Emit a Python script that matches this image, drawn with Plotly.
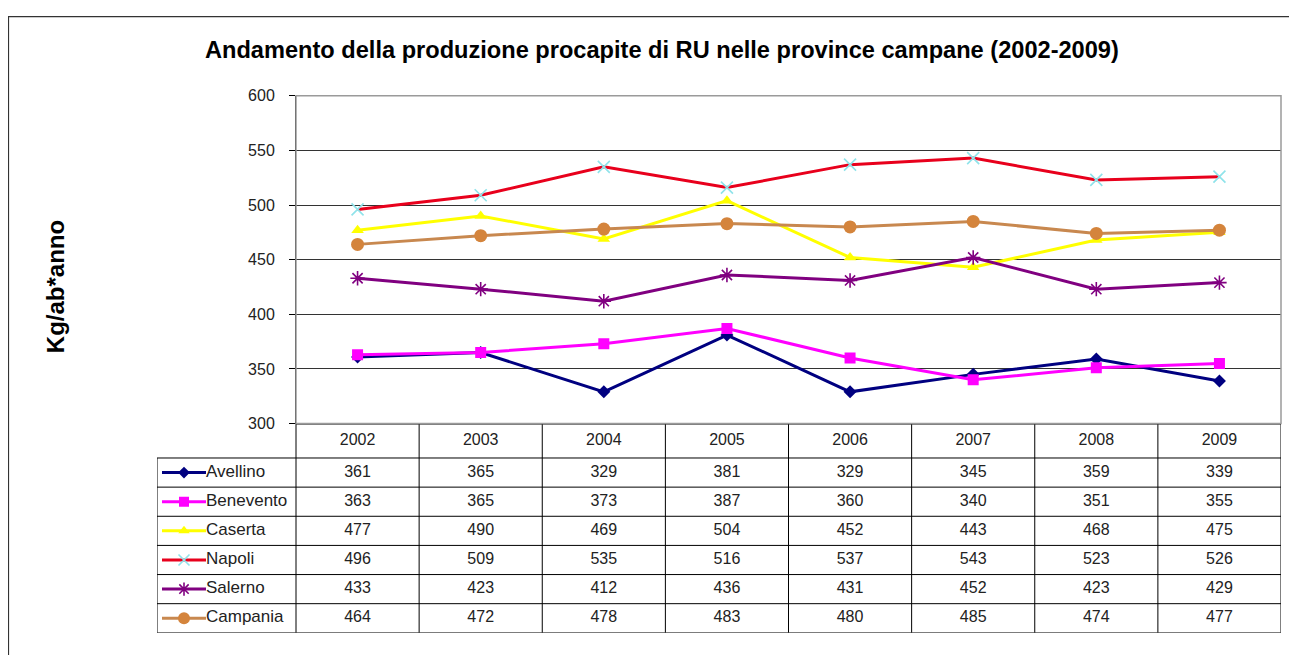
import plotly.graph_objects as go

# ---------------- data ----------------
years = ["2002", "2003", "2004", "2005", "2006", "2007", "2008", "2009"]
avellino = [361, 365, 329, 381, 329, 345, 359, 339]
benevento = [363, 365, 373, 387, 360, 340, 351, 355]
caserta = [477, 490, 469, 504, 452, 443, 468, 475]
napoli = [496, 509, 535, 516, 537, 543, 523, 526]
salerno = [433, 423, 412, 436, 431, 452, 423, 429]
campania = [464, 472, 478, 483, 480, 485, 474, 477]
names = ["Avellino", "Benevento", "Caserta", "Napoli", "Salerno", "Campania"]
values = [avellino, benevento, caserta, napoli, salerno, campania]
y_ticks = [300, 350, 400, 450, 500, 550, 600]

title = "Andamento della produzione procapite di RU nelle province campane (2002-2009)"
y_title = "Kg/ab*anno"

# ---------------- styles ----------------
line_colors = ["#000080", "#FF00FF", "#FFFF00", "#E8001C", "#800080", "#C8884F"]
marker_colors = ["#000080", "#FF00FF", "#FFFF00", "#8FE3EA", "#800080", "#D4843C"]
symbols = ["diamond", "square", "triangle-up", "x-thin-open", "asterisk-open", "circle"]
msizes = [10, 11, 11, 12, 12, 13]

OFF_X = 8          # body margin
VS, VOFF = 0.975, 16.0   # observed vertical mapping of the page capture
W = 1297 - 2 * OFF_X
H = 656
FONT = "Liberation Sans, Arial, sans-serif"


def px_x(p):
    return (p - OFF_X) / W


def px_y(p):
    return 1 - (p / VS - VOFF) / H


# table geometry (in table-axis units)
col_px = (1281 - 296) / len(years)
left_w = (296 - 157) / col_px
x2_min = -0.5 - left_w
n_rows = len(names) + 1
row_px = (633 - 458) / len(names)
header_extra = (458 - 424) / row_px - 1.0
y2_top = -0.5 - header_extra
header_y = (y2_top + 0.5) / 2

fig = go.Figure()

idx = list(range(len(years)))

# main chart lines
for name, vals, lc, mc, sym, ms in zip(names, values, line_colors, marker_colors, symbols, msizes):
    open_sym = sym.endswith("open")
    fig.add_trace(go.Scatter(
        x=idx, y=vals, mode="lines+markers", name=name,
        line=dict(color=lc, width=3),
        marker=dict(symbol=sym, size=ms, color=mc,
                    line=dict(color=mc, width=1.6 if open_sym else 0)),
        xaxis="x", yaxis="y", showlegend=False, hoverinfo="x+y+name",
    ))

TXT = dict(family=FONT, size=16, color="#222")
LBL = dict(family=FONT, size=17, color="#222")

# table: header years
fig.add_trace(go.Scatter(
    x=idx, y=[header_y] * len(years), mode="text", text=years, textfont=TXT,
    xaxis="x2", yaxis="y2", showlegend=False, hoverinfo="skip",
))

# table: value rows
for r, (name, vals) in enumerate(zip(names, values), start=1):
    fig.add_trace(go.Scatter(
        x=idx, y=[r] * len(vals), mode="text", text=[str(v) for v in vals],
        textfont=TXT,
        xaxis="x2", yaxis="y2", showlegend=False, hoverinfo="skip",
    ))

# table: legend keys in the left column
key_x0 = x2_min + 5 / col_px
key_x1 = x2_min + 49 / col_px
key_xm = (key_x0 + key_x1) / 2
label_x = x2_min + 49 / col_px
for r, (name, lc, mc, sym, ms) in enumerate(zip(names, line_colors, marker_colors, symbols, msizes), start=1):
    open_sym = sym.endswith("open")
    fig.add_trace(go.Scatter(
        x=[key_x0, key_x1], y=[r, r], mode="lines",
        line=dict(color=lc, width=3),
        xaxis="x2", yaxis="y2", showlegend=False, hoverinfo="skip",
    ))
    fig.add_trace(go.Scatter(
        x=[key_xm], y=[r], mode="markers",
        marker=dict(symbol=sym, size=ms - 1, color=mc,
                    line=dict(color=mc, width=1.6 if open_sym else 0)),
        xaxis="x2", yaxis="y2", showlegend=False, hoverinfo="skip",
    ))
    fig.add_trace(go.Scatter(
        x=[label_x], y=[r], mode="text", text=[name], textposition="middle right",
        textfont=LBL,
        xaxis="x2", yaxis="y2", showlegend=False, hoverinfo="skip",
    ))

shapes = []
line_k = dict(color="#000000", width=1)
# vertical lines of data columns
for k in range(len(years) + 1):
    shapes.append(dict(type="line", xref="x2", yref="y2",
                       x0=k - 0.5, x1=k - 0.5, y0=y2_top, y1=n_rows - 0.5, line=line_k))
# left border of name column
shapes.append(dict(type="line", xref="x2", yref="y2",
                   x0=x2_min, x1=x2_min, y0=0.5, y1=n_rows - 0.5, line=line_k))
# header top
shapes.append(dict(type="line", xref="x2", yref="y2",
                   x0=-0.5, x1=len(years) - 0.5, y0=y2_top, y1=y2_top, line=line_k))
# row lines
for r in range(1, n_rows + 1):
    shapes.append(dict(type="line", xref="x2", yref="y2",
                       x0=x2_min, x1=len(years) - 0.5, y0=r - 0.5, y1=r - 0.5, line=line_k))
# plot area border (grey)
shapes.append(dict(type="rect", xref="x domain", yref="y domain",
                   x0=0, x1=1, y0=0, y1=1, line=dict(color="#9a9a9a", width=1.5)))
# outer chart border (left/top visible)
shapes.append(dict(type="rect", xref="paper", yref="paper",
                   x0=px_x(8.5), x1=1.05, y0=-0.05, y1=0.999,
                   line=dict(color="#333333", width=1.2)))

annotations = [
    dict(text=f"<b>{title}</b>", xref="paper", yref="paper",
         x=px_x(662), y=px_y(50), xanchor="center", yanchor="middle",
         showarrow=False, font=dict(family=FONT, size=23.6, color="#000")),
    dict(text=f"<b>{y_title}</b>", xref="paper", yref="paper",
         x=px_x(55), y=px_y(287), xanchor="center", yanchor="middle",
         textangle=-90, showarrow=False, font=dict(family=FONT, size=24, color="#000")),
]

fig.update_layout(
    width=W, height=H,
    margin=dict(l=0, r=0, t=0, b=0),
    paper_bgcolor="white", plot_bgcolor="white",
    font=dict(family=FONT, color="#222"),
    xaxis=dict(domain=[px_x(296), px_x(1281)], range=[-0.5, len(years) - 0.5],
               showticklabels=False, showgrid=False, zeroline=False, ticks="",
               fixedrange=True),
    yaxis=dict(domain=[px_y(423.5), px_y(95.5)], range=[y_ticks[0], y_ticks[-1]],
               tickvals=y_ticks, ticks="outside", ticklen=6, tickcolor="#000",
               showline=True, linecolor="#000", linewidth=1,
               showgrid=True, gridcolor="#333", gridwidth=1, zeroline=False,
               tickfont=dict(family=FONT, size=16, color="#222"),
               ticklabelstandoff=11, fixedrange=True),
    xaxis2=dict(domain=[px_x(157), px_x(1281)], range=[x2_min, len(years) - 0.5],
                visible=False, fixedrange=True, anchor="y2"),
    yaxis2=dict(domain=[px_y(633), px_y(424)], range=[n_rows - 0.5, y2_top],
                visible=False, fixedrange=True, anchor="x2"),
    shapes=shapes,
    annotations=annotations,
)

fig.write_html("out.html")
